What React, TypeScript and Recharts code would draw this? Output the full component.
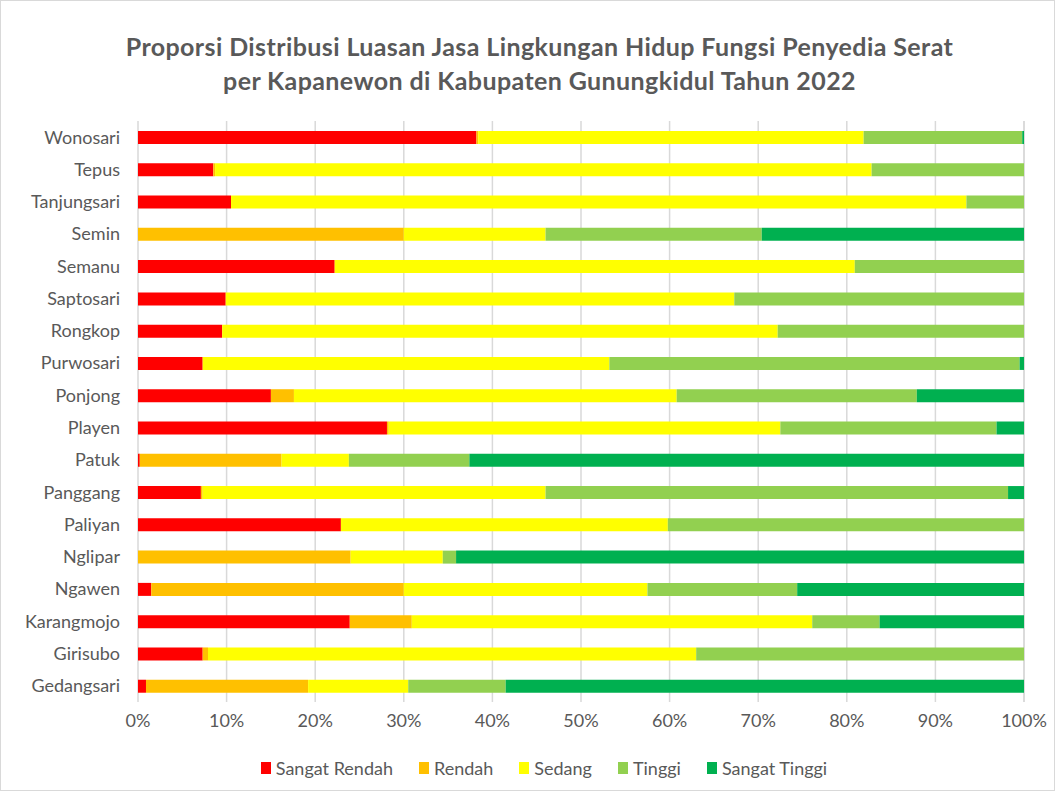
import React from "react";
import {
  BarChart,
  Bar,
  XAxis,
  YAxis,
  CartesianGrid,
} from "recharts";

const kapanewon = [
  "Wonosari",
  "Tepus",
  "Tanjungsari",
  "Semin",
  "Semanu",
  "Saptosari",
  "Rongkop",
  "Purwosari",
  "Ponjong",
  "Playen",
  "Patuk",
  "Panggang",
  "Paliyan",
  "Nglipar",
  "Ngawen",
  "Karangmojo",
  "Girisubo",
  "Gedangsari",
];

// proportion (%) per class, same order as kapanewon
const sangatRendah = [38.2, 8.5, 10.5, 0, 22.2, 9.9, 9.5, 7.3, 15.0, 28.1, 0.2, 7.1, 22.9, 0, 1.5, 23.9, 7.3, 0.9];
const rendah = [0.2, 0.2, 0, 30.0, 0, 0, 0, 0, 2.6, 0.2, 16.0, 0.2, 0, 24.0, 28.5, 7.0, 0.6, 18.3];
const sedang = [43.5, 74.1, 83.0, 16.0, 58.7, 57.4, 62.7, 45.9, 43.2, 44.2, 7.6, 38.7, 36.9, 10.4, 27.5, 45.2, 55.1, 11.3];
const tinggi = [17.9, 17.2, 6.5, 24.4, 19.1, 32.7, 27.8, 46.3, 27.1, 24.4, 13.6, 52.2, 40.2, 1.5, 16.9, 7.6, 37.0, 11.0];
const sangatTinggi = [0.2, 0, 0, 29.6, 0, 0, 0, 0.5, 12.1, 3.1, 62.6, 1.8, 0, 64.1, 25.6, 16.3, 0, 58.5];

const xTicks = [0, 10, 20, 30, 40, 50, 60, 70, 80, 90, 100];

const series = [
  { key: "sr", name: "Sangat Rendah", color: "#FF0000", values: sangatRendah },
  { key: "r", name: "Rendah", color: "#FFC000", values: rendah },
  { key: "s", name: "Sedang", color: "#FFFF00", values: sedang },
  { key: "t", name: "Tinggi", color: "#92D050", values: tinggi },
  { key: "st", name: "Sangat Tinggi", color: "#00B050", values: sangatTinggi },
];

const data = kapanewon.map((name, i) => {
  const row: Record<string, string | number> = { name };
  series.forEach((s) => {
    row[s.key] = s.values[i];
  });
  return row;
});

const FONT = "Lato, 'Open Sans', sans-serif";
const GREY = "#595959";

export default function App() {
  return (
    <div
      style={{
        width: 1055,
        height: 791,
        position: "relative",
        background: "#fff",
        border: "1px solid #d9d9d9",
        boxSizing: "border-box",
        fontFamily: FONT,
      }}
    >
      <style>{"body{margin:0}"}</style>
      <div
        style={{
          position: "absolute",
          top: 28,
          left: 0,
          width: 1077,
          textAlign: "center",
          fontSize: 25,
          letterSpacing: 0.4,
          fontWeight: 700,
          color: GREY,
          lineHeight: "34px",
        }}
      >
        Proporsi Distribusi Luasan Jasa Lingkungan Hidup Fungsi Penyedia Serat
        <br />
        per Kapanewon di Kabupaten Gunungkidul Tahun 2022
      </div>
      <BarChart
        width={1053}
        height={789}
        data={data}
        layout="vertical"
        margin={{ top: 120, right: 30, bottom: 46, left: 7 }}
        barSize={13}
      >
        <CartesianGrid horizontal={false} stroke="#d9d9d9" strokeWidth={1.5} />
        <XAxis
          type="number"
          domain={[0, 100]}
          ticks={xTicks}
          tickFormatter={(v) => `${v}%`}
          axisLine={false}
          tickLine={false}
          tickMargin={6}
          tick={{ fill: GREY, fontSize: 18, fontFamily: FONT }}
          height={42}
        />
        <YAxis
          type="category"
          dataKey="name"
          width={130}
          axisLine={false}
          tickLine={false}
          tickMargin={12}
          tick={{ fill: GREY, fontSize: 18, fontFamily: FONT }}
        />
        {series.map((s) => (
          <Bar
            key={s.key}
            dataKey={s.key}
            name={s.name}
            stackId="a"
            fill={s.color}
            isAnimationActive={false}
          />
        ))}
      </BarChart>
      <div
        style={{
          position: "absolute",
          top: 756,
          left: 0,
          width: 1086,
          display: "flex",
          justifyContent: "center",
          gap: 26,
          fontSize: 18,
          color: GREY,
        }}
      >
        {series.map((s) => (
          <div key={s.key} style={{ display: "flex", alignItems: "center" }}>
            <span
              style={{
                display: "inline-block",
                width: 10,
                height: 12,
                background: s.color,
                marginRight: 5,
              }}
            />
            {s.name}
          </div>
        ))}
      </div>
    </div>
  );
}
